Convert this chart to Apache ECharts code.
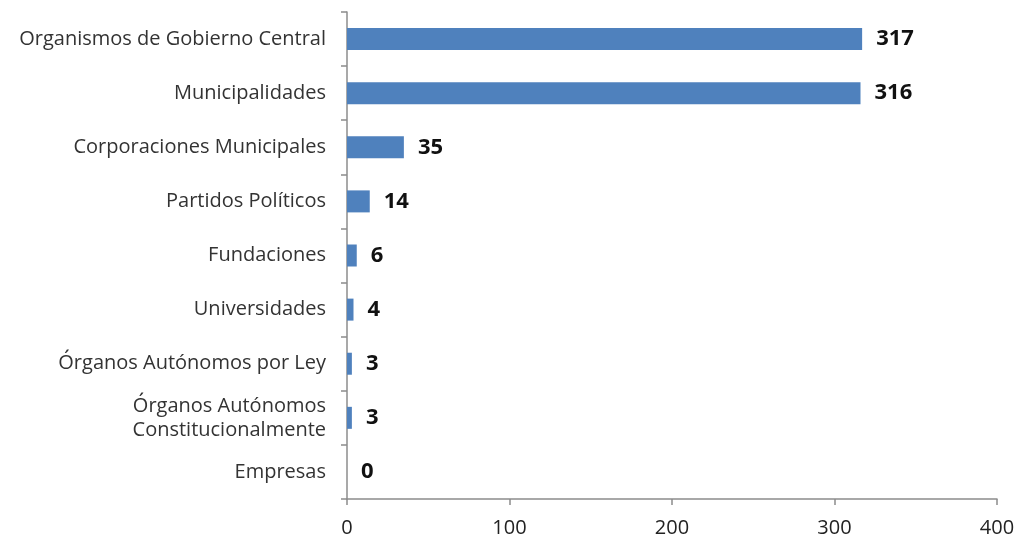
<!DOCTYPE html>
<html>
<head>
<meta charset="utf-8">
<script src="https://cdn.jsdelivr.net/npm/echarts@6/dist/echarts.min.js"></script>
<style>
  html, body { margin: 0; padding: 0; background: #fff; }
  #chart { width: 1022px; height: 543px; }
</style>
</head>
<body>
<div id="chart"></div>
<script>
const categories = [
  'Organismos de Gobierno Central',
  'Municipalidades',
  'Corporaciones Municipales',
  'Partidos Políticos',
  'Fundaciones',
  'Universidades',
  'Órganos Autónomos por Ley',
  'Órganos Autónomos\nConstitucionalmente',
  'Empresas',
]
const values = [317, 316, 35, 14, 6, 4, 3, 3, 0]
const xTicks = [0, 100, 200, 300, 400]

const chart = echarts.init(document.getElementById('chart'))
const option = {
  animation: false,
  grid: {
    left: 347,
    right: 25,
    top: 12,
    bottom: 44,
  },
  xAxis: {
    type: 'value',
    min: xTicks[0],
    max: xTicks[xTicks.length - 1],
    interval: 100,
    splitLine: { show: false },
    axisLine: { show: true, lineStyle: { color: '#8c8c8c', width: 1.5 } },
    axisTick: { show: true, length: 6, lineStyle: { color: '#8c8c8c', width: 1.5 } },
    axisLabel: {
      color: '#222',
      fontFamily: 'Open Sans',
      fontSize: 20,
      margin: 19,
    },
  },
  yAxis: {
    type: 'category',
    inverse: true,
    data: categories,
    axisLine: { show: true, lineStyle: { color: '#8c8c8c', width: 1.5 } },
    axisTick: { show: true, length: 6, lineStyle: { color: '#8c8c8c', width: 1.5 } },
    axisLabel: {
      color: '#333',
      fontFamily: 'Open Sans',
      fontSize: 20,
      lineHeight: 24,
      margin: 21,
      align: 'right',
    },
  },
  series: [
    {
      type: 'bar',
      data: values,
      barWidth: 22,
      itemStyle: { color: '#4F81BD' },
      label: {
        show: true,
        position: 'right',
        distance: 14,
        color: '#111',
        fontFamily: 'Open Sans',
        fontWeight: 'bold',
        fontSize: 22,
      },
    },
  ],
}
chart.setOption(option)
</script>
</body>
</html>
